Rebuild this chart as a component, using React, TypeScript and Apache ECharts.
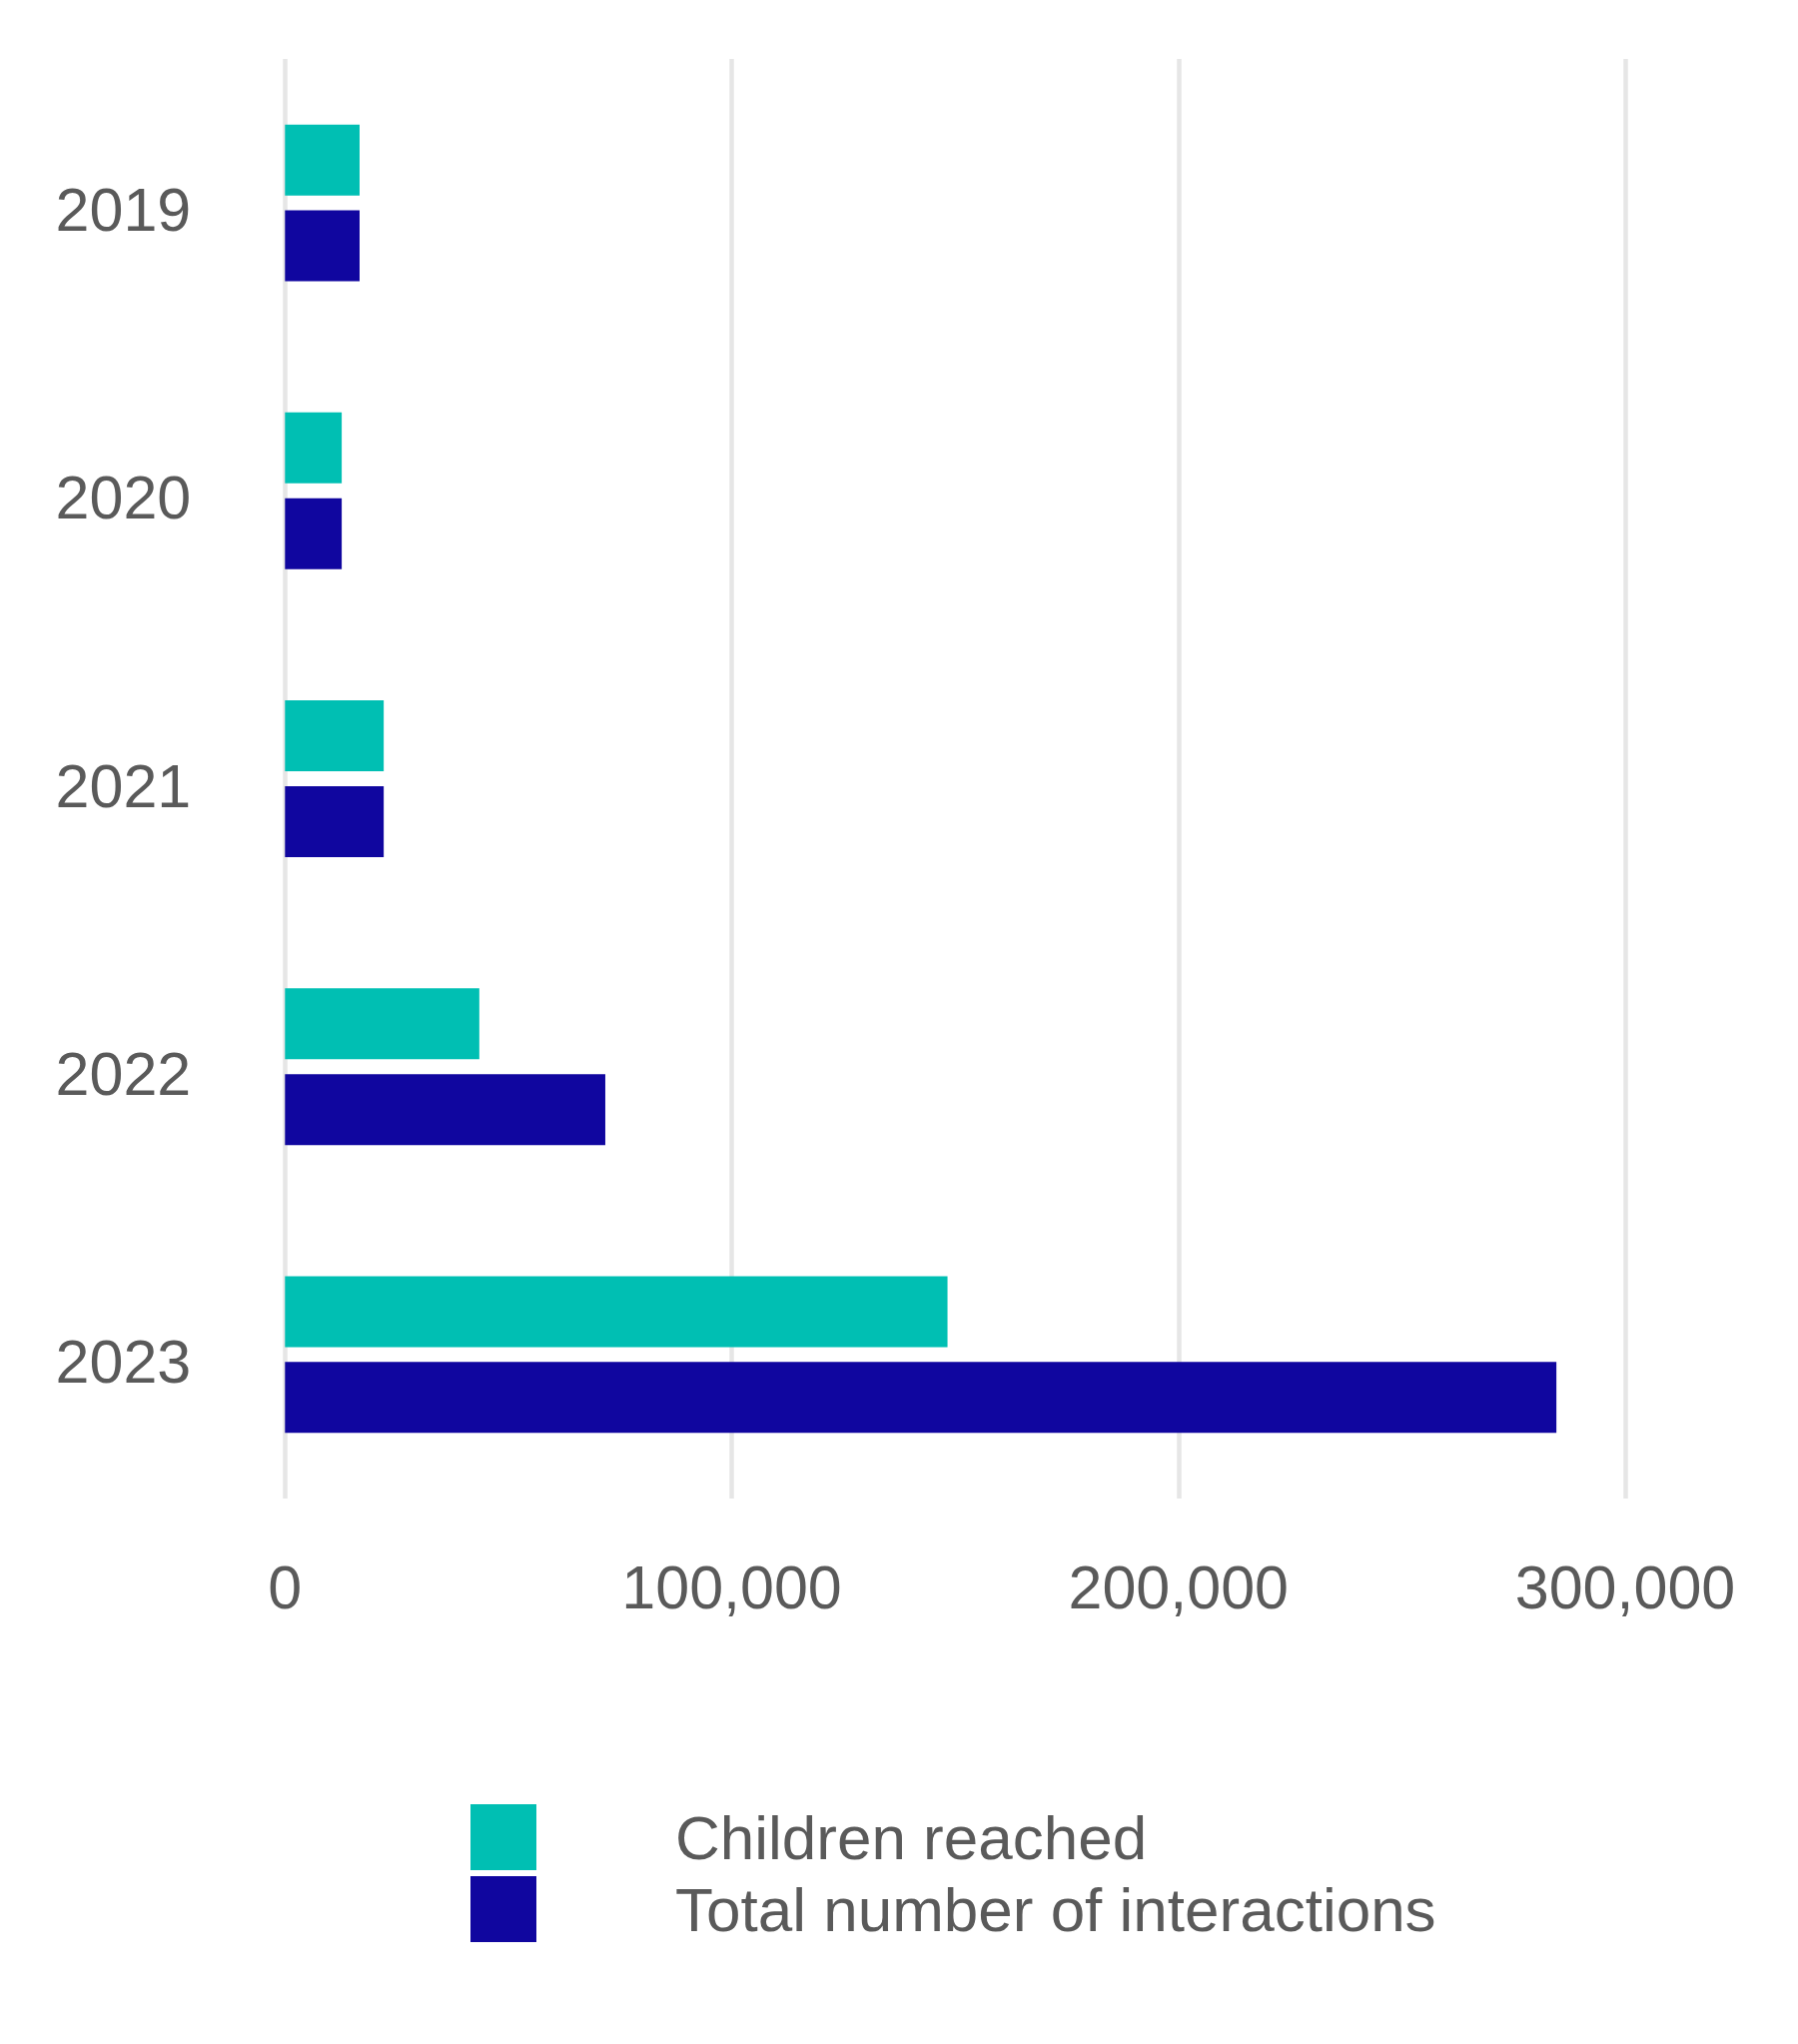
import React, { useEffect, useRef } from "react";
import * as echarts from "echarts";

const years = ["2019", "2020", "2021", "2022", "2023"];
const childrenReached = [16700, 12700, 22100, 43500, 148300];
const totalInteractions = [16700, 12700, 22100, 71700, 284600];
const xTicks = [0, 100000, 200000, 300000];
const seriesNames = ["Children reached", "Total number of interactions"];
const colors = ["#00BFB3", "#10069F"];

const FONT = "'Liberation Sans', Arial, Helvetica, sans-serif";
const TEXT = "#5a5a5a";

export default function App() {
  const ref = useRef<HTMLDivElement>(null);
  useEffect(() => {
    if (!ref.current) return;
    const chart = echarts.init(ref.current, undefined, { renderer: "svg" });
    chart.setOption({
      animation: false,
      backgroundColor: "#ffffff",
      textStyle: { fontFamily: FONT },
      grid: { left: 285.3, right: 173, top: 59, bottom: 546, containLabel: false },
      xAxis: {
        type: "value",
        min: xTicks[0],
        max: xTicks[xTicks.length - 1],
        interval: xTicks[1] - xTicks[0],
        axisLine: { show: false },
        axisTick: { show: false },
        splitLine: { show: true, lineStyle: { color: "#e6e6e6", width: 4.5 } },
        axisLabel: {
          color: TEXT,
          fontSize: 61,
          fontFamily: FONT,
          margin: 58,
          formatter: (v: number) => v.toLocaleString("en-US"),
        },
      },
      yAxis: {
        type: "category",
        inverse: true,
        data: years,
        axisLine: { show: false },
        axisTick: { show: false },
        splitLine: { show: false },
        axisLabel: {
          color: TEXT,
          fontSize: 61,
          fontFamily: FONT,
          margin: 94,
          verticalAlign: "top",
          lineHeight: 14,
        },
      },
      legend: {
        orient: "vertical",
        left: 471,
        top: 1806,
        padding: 0,
        itemWidth: 66,
        itemHeight: 66,
        itemGap: 6,
        icon: "rect",
        selectedMode: false,
        data: seriesNames,
        textStyle: { color: TEXT, fontSize: 62, fontFamily: FONT, padding: [0, 0, 0, 134] },
      },
      series: [
        {
          name: seriesNames[0],
          type: "bar",
          data: childrenReached,
          barWidth: 71,
          barGap: "21%",
          itemStyle: { color: colors[0] },
        },
        {
          name: seriesNames[1],
          type: "bar",
          data: totalInteractions,
          barWidth: 71,
          barGap: "21%",
          itemStyle: { color: colors[1] },
        },
      ],
    });
    return () => chart.dispose();
  }, []);
  return (
    <div
      ref={ref}
      style={{ position: "absolute", left: 0, top: 0, width: 1800, height: 2046, background: "#fff" }}
    />
  );
}
